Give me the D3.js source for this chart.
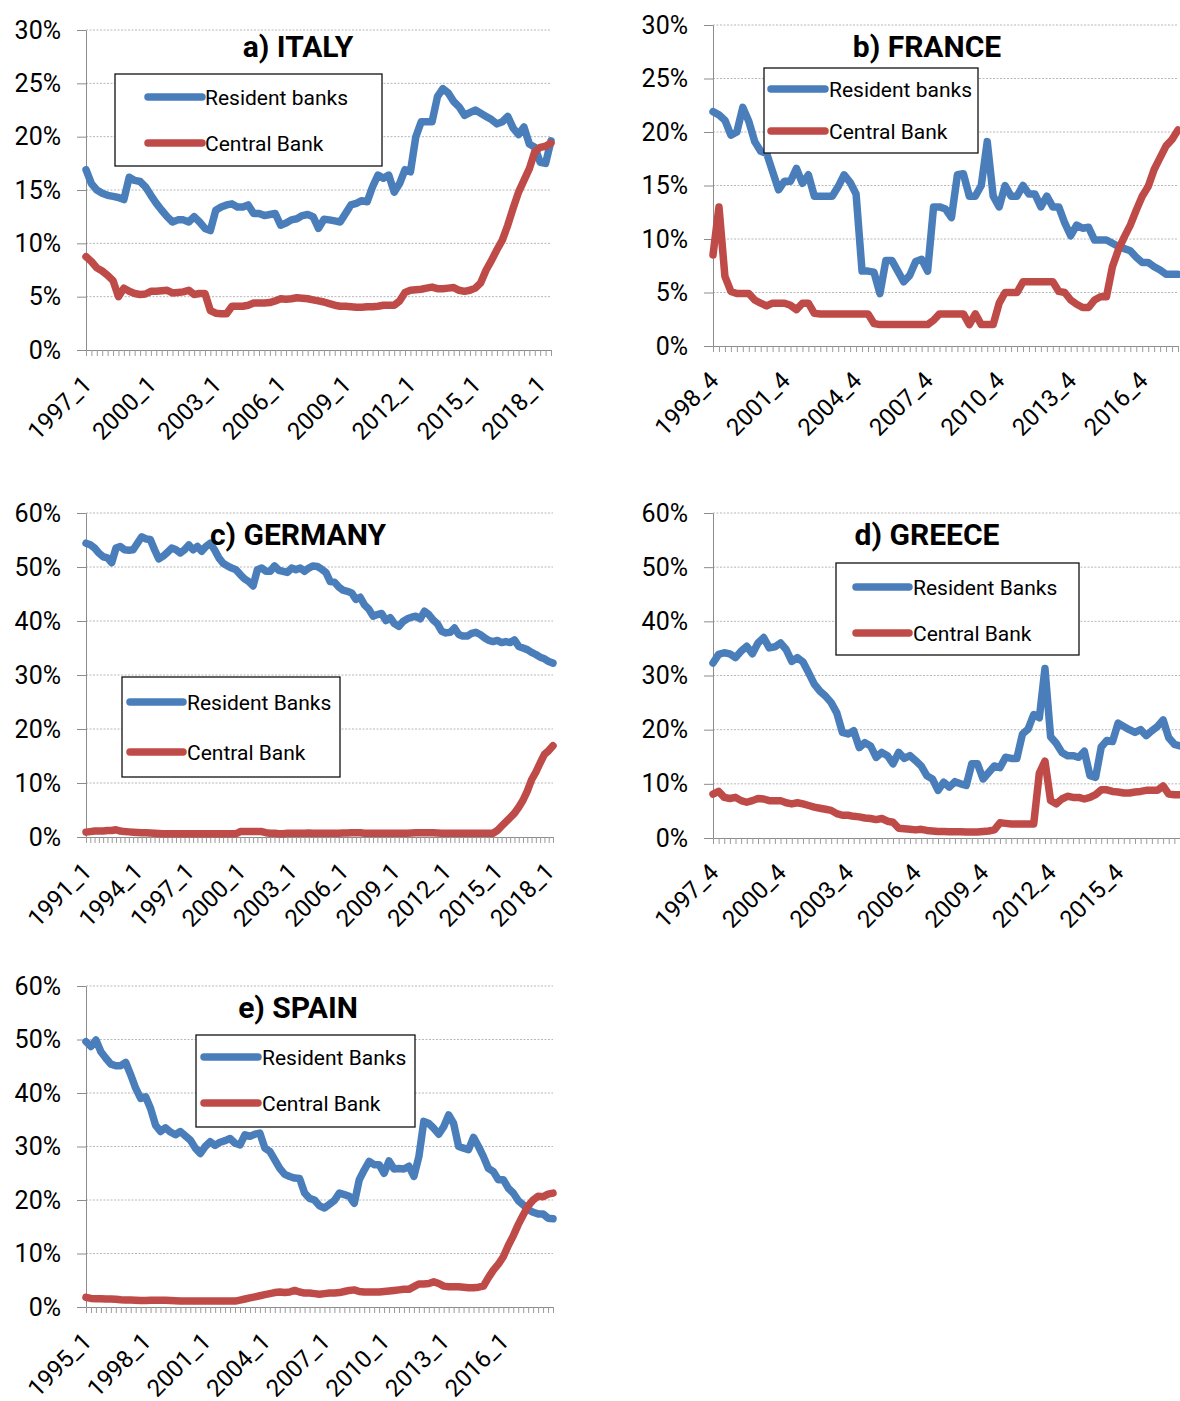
<!DOCTYPE html>
<html><head><meta charset="utf-8">
<script src="https://cdn.jsdelivr.net/npm/d3@7"></script>
<style>
body{margin:0;background:#fff}
svg{display:block}
text{font-family:Roboto,"Liberation Sans",sans-serif;fill:#000}
</style></head>
<body><svg id="c" width="1180" height="1401"></svg>
<script>
// ---------- DATA ----------
const italyStart = [1997, 1], italyCount = 87;
const italyTicks = ["1997_1","2000_1","2003_1","2006_1","2009_1","2012_1","2015_1","2018_1"];
const italyResident = [16.9,15.6,15.0,14.7,14.5,14.4,14.3,14.1,16.2,15.9,
 15.8,15.3,14.5,13.75,13.1,12.5,12.0,12.2,12.2,12.0,
 12.5,12.0,11.4,11.2,13.1,13.4,13.6,13.7,13.4,13.4,
 13.6,12.8,12.8,12.6,12.7,12.8,11.7,11.9,12.2,12.3,
 12.6,12.7,12.5,11.4,12.25,12.2,12.1,12.0,12.8,13.6,
 13.75,14.0,13.9,15.3,16.4,16.1,16.4,14.8,15.6,16.9,
 16.7,20.0,21.4,21.4,21.4,23.75,24.5,24.1,23.3,22.8,
 22.0,22.25,22.5,22.2,21.9,21.6,21.2,21.4,21.9,20.8,
 20.2,20.9,19.3,19.0,17.6,17.5,19.6];
const italyCentral = [8.75,8.3,7.7,7.4,7.0,6.5,5.0,5.8,5.5,5.3,
 5.2,5.25,5.5,5.5,5.55,5.6,5.35,5.4,5.45,5.6,
 5.2,5.3,5.3,3.7,3.45,3.4,3.4,4.1,4.1,4.1,
 4.2,4.4,4.4,4.4,4.45,4.6,4.8,4.75,4.8,4.9,
 4.85,4.8,4.7,4.6,4.5,4.35,4.2,4.1,4.1,4.05,
 4.0,4.0,4.05,4.05,4.1,4.2,4.2,4.2,4.6,5.4,
 5.6,5.65,5.7,5.8,5.9,5.75,5.75,5.8,5.85,5.6,
 5.5,5.6,5.8,6.3,7.5,8.4,9.4,10.3,11.7,13.3,
 14.8,15.9,17.0,18.6,19.0,19.1,19.4];

const franceStart = [1998, 4], franceCount = 79;
const franceTicks = ["1998_4","2001_4","2004_4","2007_4","2010_4","2013_4","2016_4"];
const franceResident = [21.9,21.6,21.1,19.7,20.0,22.3,21.0,19.1,18.2,18.0,
 16.3,14.6,15.4,15.4,16.6,15.2,16.0,14.0,14.0,14.0,
 14.0,14.9,16.0,15.3,14.2,7.0,7.0,6.9,4.9,8.0,
 8.0,7.0,6.0,6.6,7.9,8.1,7.0,13.0,13.0,12.8,
 12.0,16.0,16.1,14.0,14.0,15.0,19.1,14.0,13.0,15.0,
 14.0,14.0,15.0,14.2,14.2,13.0,14.0,13.0,13.0,11.5,
 10.3,11.3,11.0,11.1,9.9,9.9,9.9,9.6,9.3,9.1,
 8.9,8.3,7.8,7.8,7.4,7.1,6.7,6.7,6.7];
const franceCentral = [8.5,13.0,6.5,5.1,4.9,4.9,4.9,4.3,4.0,3.75,
 4.0,4.0,4.0,3.8,3.4,4.0,4.0,3.05,3.0,3.0,
 3.0,3.0,3.0,3.0,3.0,3.0,3.0,2.1,2.0,2.0,
 2.0,2.0,2.0,2.0,2.0,2.0,2.0,2.4,3.0,3.0,
 3.0,3.0,3.0,2.0,3.0,2.0,2.0,2.0,4.0,5.0,
 5.0,5.0,6.0,6.0,6.0,6.0,6.0,6.0,5.1,5.0,
 4.3,3.9,3.6,3.6,4.3,4.6,4.6,7.4,9.0,10.2,
 11.3,12.7,14.0,14.9,16.5,17.6,18.7,19.3,20.2];

const germanyStart = [1991, 1], germanyCount = 110;
const germanyTicks = ["1991_1","1994_1","1997_1","2000_1","2003_1","2006_1","2009_1","2012_1","2015_1","2018_1"];
const germanyResident = [54.4,54.1,53.5,52.6,51.9,51.7,50.8,53.5,53.8,53.2,
 53.1,53.2,54.4,55.6,55.2,55.1,53.2,51.5,52.0,52.7,
 53.5,53.2,52.6,53.2,54.1,53.2,53.8,52.9,53.8,54.4,
 53.2,51.7,50.7,50.2,49.8,49.5,48.6,47.8,47.3,46.5,
 49.5,49.8,49.2,49.2,50.2,49.4,49.2,49.0,49.8,49.5,
 49.8,49.2,49.8,50.2,50.1,49.6,49.0,47.3,47.2,46.3,
 45.7,45.5,45.2,44.0,44.4,43.0,42.2,40.9,41.2,41.4,
 40.1,40.6,39.5,39.0,39.9,40.4,40.7,40.9,40.4,41.8,
 41.2,40.2,39.5,38.1,37.8,37.9,38.7,37.5,37.2,37.2,
 37.7,37.9,37.5,36.9,36.4,36.2,36.4,36.0,36.2,36.0,
 36.5,35.3,35.0,34.7,34.2,33.8,33.3,33.0,32.5,32.2];
const germanyCentral = [0.9,1.0,1.1,1.1,1.1,1.2,1.2,1.35,1.1,1.0,
 0.95,0.9,0.85,0.8,0.8,0.75,0.7,0.65,0.6,0.6,
 0.6,0.6,0.6,0.6,0.6,0.6,0.6,0.6,0.6,0.6,
 0.6,0.6,0.6,0.6,0.6,0.6,1.0,1.0,1.0,1.0,
 1.0,1.0,0.8,0.7,0.7,0.6,0.6,0.7,0.7,0.7,
 0.7,0.7,0.75,0.7,0.7,0.7,0.7,0.7,0.7,0.7,
 0.75,0.75,0.8,0.8,0.8,0.7,0.7,0.7,0.7,0.7,
 0.7,0.7,0.7,0.7,0.7,0.7,0.75,0.8,0.8,0.8,
 0.8,0.8,0.75,0.7,0.7,0.7,0.7,0.7,0.7,0.7,
 0.7,0.7,0.7,0.7,0.7,0.7,1.2,2.0,2.8,3.6,
 4.4,5.5,6.8,8.5,10.6,12.0,13.7,15.3,16.0,16.9];

const greeceStart = [1997, 4], greeceCount = 84;
const greeceTicks = ["1997_4","2000_4","2003_4","2006_4","2009_4","2012_4","2015_4"];
const greeceResident = [32.3,33.9,34.2,34.0,33.3,34.5,35.4,34.0,36.0,37.0,
 35.1,35.3,36.0,34.8,32.6,33.3,32.5,30.5,28.4,27.1,
 26.2,25.0,23.1,19.5,19.2,19.8,16.7,17.6,17.0,14.9,
 15.8,15.2,13.7,15.8,14.7,15.2,14.3,13.3,11.5,10.9,
 8.8,10.3,9.4,10.4,10.0,9.7,13.7,13.7,10.9,12.1,
 13.3,13.0,14.9,14.7,14.7,19.2,20.1,22.8,22.2,31.3,
 18.7,17.5,15.8,15.2,15.2,14.9,16.0,11.5,11.2,16.8,
 18.0,17.8,21.2,20.6,20.0,19.5,20.0,18.9,19.8,20.6,
 21.8,18.5,17.3,17.0];
const greeceCentral = [8.1,8.6,7.5,7.3,7.5,6.9,6.6,6.9,7.3,7.2,
 6.9,6.9,6.9,6.5,6.3,6.5,6.3,6.0,5.7,5.5,
 5.3,5.1,4.5,4.2,4.2,4.0,3.9,3.7,3.6,3.4,
 3.6,3.1,2.9,1.8,1.7,1.6,1.5,1.6,1.4,1.3,
 1.2,1.2,1.15,1.15,1.15,1.1,1.1,1.1,1.2,1.3,
 1.5,2.8,2.7,2.6,2.6,2.6,2.6,2.6,12.0,14.2,
 6.9,6.3,7.2,7.7,7.5,7.5,7.2,7.5,8.0,8.9,
 8.9,8.6,8.5,8.3,8.3,8.5,8.6,8.8,8.8,8.8,
 9.6,8.1,8.0,8.0];

const spainStart = [1995, 1], spainCount = 95;
const spainTicks = ["1995_1","1998_1","2001_1","2004_1","2007_1","2010_1","2013_1","2016_1"];
const spainResident = [49.6,48.7,49.9,47.7,46.5,45.4,45.1,45.1,45.7,43.4,
 40.9,39.0,39.3,37.1,34.0,32.8,33.5,32.7,32.2,32.8,
 32.0,31.2,29.7,28.7,30.0,30.9,30.2,30.8,31.1,31.5,
 30.6,30.3,32.2,31.9,32.3,32.5,29.7,29.1,27.5,25.9,
 24.8,24.4,24.1,24.0,21.3,20.3,20.0,18.9,18.5,19.2,
 19.9,21.3,21.0,20.7,19.4,23.8,25.6,27.2,26.6,26.6,
 25.0,27.3,25.8,25.9,25.8,26.3,24.4,28.1,34.7,34.3,
 33.4,32.3,33.7,35.9,34.3,30.0,29.7,29.4,31.7,30.0,
 28.1,25.9,25.3,23.8,23.8,22.2,21.3,19.9,19.1,18.2,
 17.7,17.4,17.4,16.6,16.5];
const spainCentral = [1.8,1.6,1.55,1.55,1.5,1.5,1.45,1.35,1.3,1.3,
 1.25,1.2,1.2,1.25,1.25,1.25,1.25,1.2,1.15,1.1,
 1.1,1.1,1.1,1.1,1.1,1.1,1.1,1.1,1.1,1.1,
 1.1,1.3,1.5,1.7,1.9,2.1,2.3,2.5,2.7,2.8,
 2.7,2.8,3.1,2.8,2.6,2.6,2.5,2.4,2.5,2.6,
 2.6,2.7,2.9,3.1,3.2,2.9,2.8,2.8,2.8,2.8,
 2.9,3.0,3.1,3.2,3.3,3.3,3.8,4.3,4.3,4.4,
 4.7,4.4,3.9,3.8,3.8,3.8,3.7,3.6,3.6,3.7,
 3.9,5.5,6.9,8.0,9.4,11.5,13.3,15.4,17.2,18.9,
 20.0,20.7,20.6,21.1,21.3];

// ---------- HELPERS ----------
function quarters(start, n) {
  let [y, q] = start; const out = [];
  for (let i = 0; i < n; i++) { out.push(y + "_" + q); q++; if (q > 4) { q = 1; y++; } }
  return out;
}
const BLUE = "#4A7EBB", RED = "#BE4B48";
const svg = d3.select("#c");

const panels = [
  {cats: quarters(italyStart, italyCount), ticks: italyTicks, s1: italyResident, s2: italyCentral,
   title: "a) ITALY", l1: "Resident banks", l2: "Central Bank",
   x0: 86, x1: 551, y0: 350, y1: 30, yMax: 30, yStep: 5, tx: 298, ty: 57,
   lg: {x: 115, y: 74, w: 267, h: 92, r1: 97, r2: 143, s0: 148, s1: 202, t: 205}},
  {cats: quarters(franceStart, franceCount), ticks: franceTicks, s1: franceResident, s2: franceCentral,
   title: "b) FRANCE", l1: "Resident banks", l2: "Central Bank",
   x0: 713, x1: 1178, y0: 346, y1: 25, yMax: 30, yStep: 5, tx: 927, ty: 57,
   lg: {x: 764, y: 68, w: 214, h: 85, r1: 89, r2: 131, s0: 771, s1: 825, t: 829}},
  {cats: quarters(germanyStart, germanyCount), ticks: germanyTicks, s1: germanyResident, s2: germanyCentral,
   title: "c) GERMANY", l1: "Resident Banks", l2: "Central Bank",
   x0: 86, x1: 553, y0: 837, y1: 513, yMax: 60, yStep: 10, tx: 298, ty: 545,
   lg: {x: 122, y: 677, w: 218, h: 100, r1: 702, r2: 752, s0: 130, s1: 183, t: 187}},
  {cats: quarters(greeceStart, greeceCount), ticks: greeceTicks, s1: greeceResident, s2: greeceCentral,
   title: "d) GREECE", l1: "Resident Banks", l2: "Central Bank",
   x0: 713, x1: 1180, y0: 838, y1: 513, yMax: 60, yStep: 10, tx: 927, ty: 545,
   lg: {x: 836, y: 563, w: 243, h: 92, r1: 587, r2: 633, s0: 856, s1: 909, t: 913}},
  {cats: quarters(spainStart, spainCount), ticks: spainTicks, s1: spainResident, s2: spainCentral,
   title: "e) SPAIN", l1: "Resident Banks", l2: "Central Bank",
   x0: 86, x1: 553, y0: 1307, y1: 986, yMax: 60, yStep: 10, tx: 298, ty: 1018,
   lg: {x: 196, y: 1035, w: 219, h: 92, r1: 1057, r2: 1103, s0: 204, s1: 258, t: 262}}
];

function drawPanel(p) {
  const g = svg.append("g");
  const x = d3.scalePoint().domain(p.cats).range([p.x0, p.x1]);
  const y = d3.scaleLinear().domain([0, p.yMax]).range([p.y0, p.y1]);
  const yt = d3.range(0, p.yMax + 0.001, p.yStep);

  g.append("g").selectAll("line").data(yt.slice(1)).join("line")
    .attr("x1", p.x0).attr("x2", p.x1).attr("y1", d => y(d)).attr("y2", d => y(d))
    .attr("stroke", "#b8b8b8").attr("stroke-width", 1).attr("stroke-dasharray", "2,1.5");

  const ya = g.append("g").attr("transform", `translate(${p.x0},0)`)
    .call(d3.axisLeft(y).tickValues(yt).tickFormat(d => d + "%").tickSize(9).tickSizeOuter(0).tickPadding(16));
  ya.select(".domain").attr("stroke", "#8c8c8c");
  ya.selectAll(".tick line").attr("stroke", "#8c8c8c");
  ya.selectAll(".tick text").attr("font-size", 25).attr("fill", "#000").attr("font-family", "Roboto");

  const xa = g.append("g").attr("transform", `translate(0,${p.y0})`)
    .call(d3.axisBottom(x).tickSize(6).tickSizeOuter(0).tickFormat(""));
  xa.select(".domain").attr("stroke", "#8c8c8c");
  xa.selectAll(".tick line").attr("stroke", "#9a9a9a");

  g.append("g").selectAll("text").data(p.ticks).join("text")
    .attr("transform", d => `translate(${x(d) + 7},${p.y0 + 36}) rotate(-45)`)
    .attr("text-anchor", "end").attr("font-size", 24).text(d => d);

  const line = d3.line().x((d, i) => x(p.cats[i])).y(d => y(d));
  [[p.s1, BLUE], [p.s2, RED]].forEach(([s, c]) => {
    g.append("path").datum(s).attr("d", line).attr("fill", "none").attr("stroke", c)
      .attr("stroke-width", 7.5).attr("stroke-linejoin", "round").attr("stroke-linecap", "round");
  });

  const L = p.lg;
  g.append("rect").attr("x", L.x).attr("y", L.y).attr("width", L.w).attr("height", L.h)
    .attr("fill", "#fff").attr("stroke", "#111").attr("stroke-width", 1.3);
  [[L.r1, BLUE, p.l1], [L.r2, RED, p.l2]].forEach(([ry, c, t]) => {
    g.append("line").attr("x1", L.s0).attr("x2", L.s1).attr("y1", ry).attr("y2", ry)
      .attr("stroke", c).attr("stroke-width", 7.5).attr("stroke-linecap", "round");
    g.append("text").attr("x", L.t).attr("y", ry).attr("dy", "0.36em").attr("font-size", 21).text(t);
  });

  g.append("text").attr("x", p.tx).attr("y", p.ty).attr("text-anchor", "middle")
    .attr("font-size", 30).attr("font-weight", "bold").text(p.title);
}
panels.forEach(drawPanel);
</script>
</body></html>
